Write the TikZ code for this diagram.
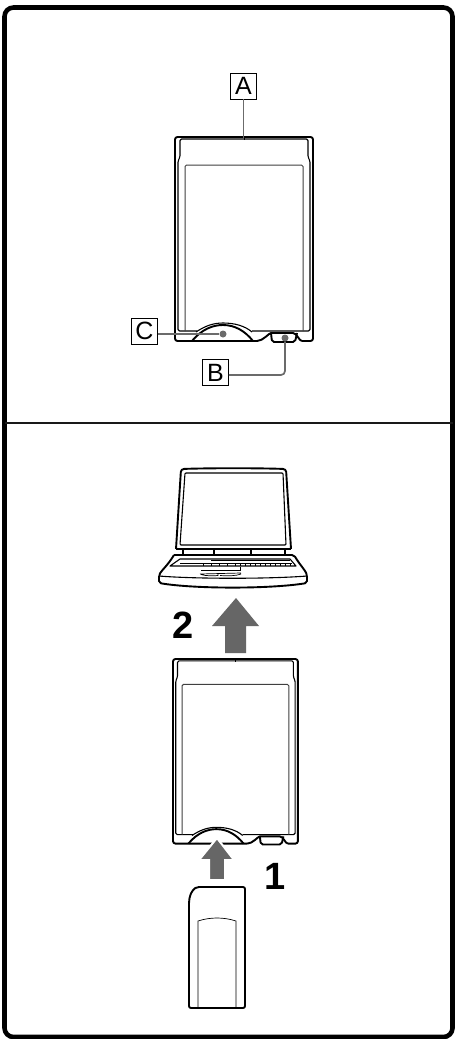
\documentclass[tikz,border=0pt]{standalone}
\usepackage{fontspec}
\setmainfont{Liberation Sans}
\tikzset{
  thickline/.style={line width=1.9pt,black,line join=round},
  midline/.style={line width=1.1pt,black,line join=round},
  thinline/.style={line width=.7pt,black},
  leader/.style={line width=1.7pt,black!58,rounded corners=4pt},
  dotmark/.style={circle,fill=black!58,inner sep=0pt,minimum size=7pt},
  labelbox/.style={draw=black,line width=.9pt,fill=white,minimum size=26pt,inner sep=0pt,font=\fontsize{25}{25}\selectfont},
  stepno/.style={inner sep=0pt,font=\bfseries\fontsize{38}{38}\selectfont},
  bigarrow/.style={fill=black!60,draw=none},
  cardshape/.pic={
    \draw[thickline,rounded corners=2.5pt] (82,204) -- (0,204) -- (0,0) -- (138,0) -- (138,204) -- (127,204);
    \draw[thickline] (127,204) .. controls (124,204) and (122,196) .. (118,196) -- (96,196)
       .. controls (94,196) and (88,204) .. (82,204);
    \draw[thickline,rounded corners=2pt] (96,196) -- (97,205) -- (120,205) -- (122,196);
    \draw[midline,rounded corners=1.5pt] (22,194) -- (3,194) -- (3,24) -- (5,20) -- (5,2) -- (133,2) -- (133,20) -- (135,24) -- (135,194) -- (77,194);
    \draw[line width=1pt,black!75,rounded corners=1.5pt] (10,194) -- (10,28) -- (128,28) -- (128,194);
    \draw[thickline] (17,204) .. controls (27,192) and (38,188) .. (48,188) .. controls (60,188) and (70,194) .. (78,204);
    \draw[midline] (21,195) .. controls (30,189) and (38,186) .. (48,186) .. controls (60,186) and (70,189) .. (77,195);
    \draw[thinline] (69,0) -- (69,3);
  }
}
\begin{document}
\begin{tikzpicture}[x=1pt,y=-1pt]
\useasboundingbox (0,0) rectangle (455,1039);
\fill[white] (0,0) rectangle (455,1039);
% frame
\draw[line width=4.6pt,black,rounded corners=9pt] (4.5,7.5) rectangle (452.5,1037);
\draw[line width=2pt,black!90] (4.5,423) -- (452.5,423);
% upper card
\pic at (175,137) {cardshape};
\node[labelbox] (a) at (243.5,86) {A};
\node[labelbox] (c) at (144.5,331) {C};
\node[labelbox] (b) at (215.5,372.5) {B};
\coordinate (atop) at (243.5,138);
\node[dotmark] (cdot) at (223,334) {};
\node[dotmark] (bdot) at (285,338) {};
\draw[leader] (a.south) -- (atop);
\draw[leader] ([yshift=-3pt]c.east) -- (cdot);
\draw[leader] ([yshift=-2.5pt]b.east) -| (bdot);
% laptop
\draw[thickline,rounded corners=3pt] (176,549) -- (181,469) .. controls (210,468) and (257,468) .. (286,469) -- (291,549);
\draw[midline,rounded corners=1pt] (180,545) -- (185,473) -- (283,473) -- (286,545) -- cycle;
\draw[midline] (176,549) -- (291,549);
\draw[midline] (183,549) -- (183,555) (285,549) -- (285,555);
\draw[midline] (214,555) -- (214,549) -- (251,549) -- (251,555);
\draw[thickline,rounded corners=2pt] (174,555) -- (294,555) .. controls (300,565) and (305,570) .. (307,575) -- (307,583)
   .. controls (270,589) and (195,589) .. (159,583) -- (159,575) .. controls (162,570) and (168,565) .. (174,555);
\draw[midline] (159,576) .. controls (195,579) and (270,579) .. (307,576);
\draw[midline] (180,559) -- (290,559) -- (296,566) -- (170,566) -- cycle;
\draw[thinline] (180,563) -- (292,563);
\draw[thinline] (211,560.5) -- (290,560.5);
\foreach \k in {0,...,10}{\draw[thinline] ({240+\k*5},563) -- ({240+\k*5},566);}
\foreach \k in {0,...,4}{\draw[thinline] ({203+\k*8},563) -- ({203+\k*8},566);}
\draw[thinline] (201,570) -- (240,570) -- (240,567);
\draw[thinline] (201,574.5) .. controls (205,576) and (214,576) .. (218,575.5) -- (218,574)
   (220,575.5) .. controls (228,576) and (236,576) .. (241,574) (200,574) -- (241,573);
% lower card
\pic[scale=.905] at (173,659) {cardshape};
% memory stick
\draw[thickline,rounded corners=2pt] (189,1008) -- (189,905) .. controls (189,896) and (192,890) .. (197,887) -- (245,887) -- (245,1008) -- cycle;
\draw[thinline] (198,1008) -- (198,921) .. controls (210,917) and (224,917) .. (236,921) -- (236,1008);
% arrows
\fill[bigarrow] (236,598) -- (259,626) -- (246,626) -- (246,653) -- (225,653) -- (225,626) -- (212,626) -- cycle;
\fill[bigarrow,draw=white,line width=2pt] (217,838) -- (234,860) -- (225,860) -- (225,880) -- (209,880) -- (209,860) -- (199,860) -- cycle;
\node[stepno] (two) at (183,625) {2};
\node[stepno] (one) at (275,876) {1};
\end{tikzpicture}
\end{document}
